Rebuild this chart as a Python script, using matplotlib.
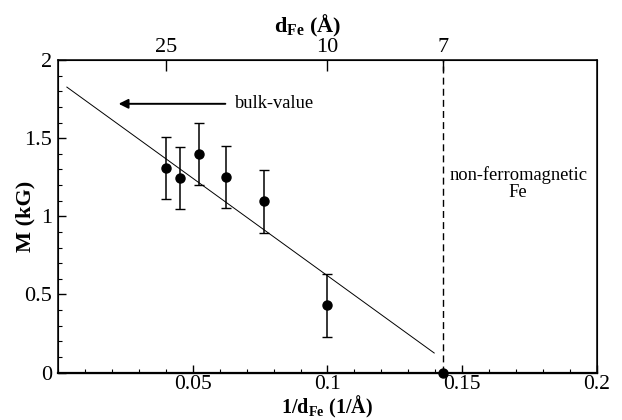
import matplotlib
matplotlib.use('Agg')
import matplotlib.pyplot as plt
from matplotlib.ticker import MultipleLocator

plt.rcParams['font.family'] = 'Liberation Serif'
plt.rcParams['mathtext.fontset'] = 'custom'
plt.rcParams['mathtext.rm'] = 'Liberation Serif'
plt.rcParams['mathtext.bf'] = 'Liberation Serif:bold'

# measured points: 1/d_Fe (1/A), magnetisation (kG), error
inv_d = [0.040, 0.0452, 0.0523, 0.0622, 0.0766, 0.100]
M = [1.31, 1.245, 1.40, 1.25, 1.095, 0.43]
M_err = [0.2, 0.2, 0.2, 0.2, 0.2, 0.2]

# non-ferromagnetic point at d = 7 A
nf_x = [1 / 7]
nf_y = [0.0]

# linear fit line
fit_x = [0.0033, 0.1396]
fit_y = [1.827, 0.125]

# top axis: d_Fe in A
top_d = [25, 10, 7]

fig = plt.figure(figsize=(6.22, 4.2), dpi=100)
ax = fig.add_axes([0.0932, 0.113, 0.8666, 0.744])

ax.plot(fit_x, fit_y, color='black', linewidth=0.7)
ax.errorbar(inv_d, M, yerr=M_err, fmt='o', color='black', markersize=6.5,
            elinewidth=1.1, capsize=3.5, capthick=1.0)
ax.plot(nf_x, nf_y, 'o', color='black', markersize=6.5, clip_on=False, zorder=5)
ax.axvline(1 / 7, color='black', linestyle=(0, (5, 3)), linewidth=1.0)

ax.annotate('', xy=(0.0225, 1.72), xytext=(0.0621, 1.72),
            arrowprops=dict(arrowstyle='-|>', color='black', linewidth=1.4,
                            mutation_scale=14, shrinkA=0, shrinkB=0))
ax.text(0.0658, 1.72, 'bulk-value', fontsize=13.3, va='center', ha='left')
ax.text(0.1707, 1.21, 'non-ferromagnetic\nFe', fontsize=13.3, ha='center',
        va='center', linespacing=1.0)

ax.set_xlim(0, 0.2)
ax.set_ylim(0, 2)
ax.xaxis.set_major_locator(MultipleLocator(0.05))
ax.xaxis.set_minor_locator(MultipleLocator(0.01))
ax.yaxis.set_major_locator(MultipleLocator(0.5))
ax.yaxis.set_minor_locator(MultipleLocator(0.1))
ax.set_xticks([0.05, 0.1, 0.15, 0.2])
ax.set_xticklabels(['0.05', '0.1', '0.15', '0.2'])
ax.set_yticks([0, 0.5, 1, 1.5, 2])
ax.set_yticklabels(['0', '0.5', '1', '1.5', '2'])
ax.tick_params(which='both', direction='in', top=False, right=False,
               labelsize=16)
ax.tick_params(which='major', length=5.5, width=1.0, pad=4)
ax.tick_params(axis='x', which='major', pad=2, labelsize=15.5)
ax.tick_params(which='minor', length=3, width=0.8)

for s in ax.spines.values():
    s.set_linewidth(1.1)
ax.spines['bottom'].set_linewidth(1.6)

ax2 = ax.twiny()
ax2.set_xlim(ax.get_xlim())
ax2.set_xticks([1 / d for d in top_d])
ax2.set_xticklabels([str(d) for d in top_d])
ax2.tick_params(direction='in', length=8, width=1.0, labelsize=16, pad=2)

ax.text(0.5, -0.0095, '1/d$_{\\mathbf{Fe}}$ (1/Å)', fontsize=14.5,
        transform=ax.transAxes + matplotlib.transforms.ScaledTranslation(0, -0.31, fig.dpi_scale_trans),
        fontweight='bold', ha='center', va='center')
ax.text(0.4625, 1.11, 'd$_{\\mathbf{Fe}}$ (Å)', transform=ax.transAxes,
        fontsize=16, fontweight='bold', ha='center', va='center')
ax.text(-0.061, 0.5, 'M (kG)', transform=ax.transAxes, rotation=90,
        fontsize=16, fontweight='bold', ha='center', va='center')

fig.savefig('out.png', dpi=100)
